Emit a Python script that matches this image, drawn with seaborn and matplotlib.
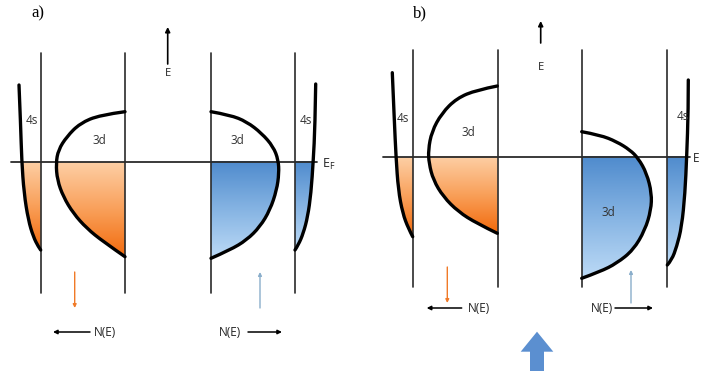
import numpy as np
import pandas as pd
import matplotlib
matplotlib.use("Agg")
import matplotlib.pyplot as plt
from matplotlib.patches import Polygon, PathPatch
from matplotlib.path import Path
from matplotlib.colors import LinearSegmentedColormap
import seaborn as sns

# ---- geometry of the two panels (canvas units, y grows downward) ----
panel_labels = ["a)", "b)"]
panel_label_x = [38, 420]
fermi_y = [161.7, 156.7]
fermi_x0 = [10.7, 383]
fermi_x1 = [317, 690]
axis_x = [[40.7, 125, 210.7, 294.7], [413.3, 497.7, 581.7, 666.7]]
axis_top = [53, 50]
axis_bottom = [293, 287]
energy_arrow_x = [167.7, 540.7]
energy_arrow_y = [(64, 27), (43, 21)]
energy_label_y = [73, 68]

# ---- density-of-states curves: (x, y) points along each band ----
a_s_down_x = [19, 20.7, 21.7, 24, 28.3, 33.3, 38.3, 40.7]
a_s_down_y = [85, 126.7, 160, 193, 220, 236.7, 246.7, 250]
a_d_down_x = [125, 100, 80, 66.7, 58.3, 56, 57.3, 63.3, 73.3, 86.7, 103.3, 125]
a_d_down_y = [111.7, 115, 123.3, 136.7, 150, 163.3, 180, 196.7, 213.3, 228.3, 241.7, 256.7]
a_d_up_x = [211, 230, 246.7, 261.7, 273.3, 278.3, 279, 276.7, 270, 260, 246.7, 230, 211]
a_d_up_y = [111.7, 115, 121.7, 133.3, 146.7, 160, 173.3, 190, 210, 226.7, 240, 250, 258.3]
a_s_up_x = [315.7, 315, 313.3, 311, 307.7, 303.3, 298.3, 295]
a_s_up_y = [84, 126.7, 160, 193.3, 216.7, 233.3, 245, 250]

b_s_down_x = [392.3, 394.3, 396, 398.3, 402.7, 408.3, 412.7]
b_s_down_y = [72.7, 120, 156.7, 190, 213.3, 228.3, 236.7]
b_d_down_x = [497.3, 476.7, 456.7, 441.7, 431.7, 428.3, 429, 433.3, 443.3, 458.3, 476.7, 497.3]
b_d_down_y = [86, 90, 98.3, 113.3, 131.7, 150, 163.3, 180, 196.7, 211.7, 223.3, 233.3]
b_d_up_x = [581.7, 600, 616.7, 630, 638.3, 646.7, 651.7, 651, 645, 633.3, 616.7, 600, 581.7]
b_d_up_y = [131.7, 135, 141.7, 150, 158.3, 173.3, 193.3, 210, 230, 250, 263.3, 271.7, 278.3]
b_s_up_x = [688.3, 688.3, 686.7, 685, 681.7, 676.7, 671.7, 667.3]
b_s_up_y = [80, 110, 156.7, 193.3, 226.7, 246.7, 260, 265]

# band label text positions
band_text = ["4s", "3d", "3d", "4s", "4s", "3d", "3d", "4s"]
band_text_x = [32, 99, 237, 306, 403, 468, 608, 683]
band_text_y = [121, 140, 140, 121, 118, 133, 212, 117]

# spin arrows and N(E) captions
spin_x = [[74.7, 260], [447.3, 631]]
spin_y = [[(272, 308), (308, 272)], [(267, 303), (303, 270)]]
ne_y = [332, 308]
ne_left_arrow = [(90, 53), (461.7, 426.7)]
ne_left_text = [105, 479]
ne_right_text = [230, 601.7]
ne_right_arrow = [(248, 282), (615, 653)]

ORANGE = LinearSegmentedColormap.from_list("orange", ["#fdcfa5", "#f9a05a", "#f26a0c"])
BLUE = LinearSegmentedColormap.from_list("blue", ["#4f8bcd", "#86b4e3", "#bcdaf6"])

sns.set_theme(style="white")
plt.rcParams["font.family"] = ["Open Sans", "DejaVu Sans"]

fig = plt.figure(figsize=(7.01, 3.71), dpi=100)
ax = fig.add_axes([0, 0, 1, 1])


def smooth_path(xs, ys, close_to=None):
    """Quadratic B-spline path through the midpoints of the given points."""
    pts = np.column_stack([xs, ys])
    verts = [pts[0]]
    codes = [Path.MOVETO]
    n = len(pts)
    for i in range(1, n - 1):
        end = pts[i + 1] if i == n - 2 else (pts[i] + pts[i + 1]) / 2
        verts += [pts[i], end]
        codes += [Path.CURVE3, Path.CURVE3]
    if close_to is not None:
        verts += [(close_to, pts[-1][1]), (close_to, pts[0][1]), pts[0]]
        codes += [Path.LINETO, Path.LINETO, Path.CLOSEPOLY]
    return Path(np.array(verts, float), codes)


def band(xs, ys, axis, ef, cmap):
    """Draw one band outline and shade its occupied part below E_F."""
    xs = np.asarray(xs, float)
    ys = np.asarray(ys, float)
    clip = PathPatch(smooth_path(xs, ys, close_to=axis), transform=ax.transData,
                     fc="none", ec="none")
    ax.add_patch(clip)
    x0, x1 = min(xs.min(), axis), max(xs.max(), axis)
    grad = np.linspace(0, 1, 256)[:, None]
    im = ax.imshow(grad, cmap=cmap, aspect="auto", interpolation="bilinear",
                   extent=(x0, x1, ys.max(), ef), zorder=1)
    im.set_clip_path(clip)
    ax.add_patch(PathPatch(smooth_path(xs, ys), fc="none", ec="black", lw=2.4,
                           capstyle="round", joinstyle="round", zorder=4))


curves = [
    (a_s_down_x, a_s_down_y, 0, 0, ORANGE),
    (a_d_down_x, a_d_down_y, 0, 1, ORANGE),
    (a_d_up_x, a_d_up_y, 0, 2, BLUE),
    (a_s_up_x, a_s_up_y, 0, 3, BLUE),
    (b_s_down_x, b_s_down_y, 1, 0, ORANGE),
    (b_d_down_x, b_d_down_y, 1, 1, ORANGE),
    (b_d_up_x, b_d_up_y, 1, 2, BLUE),
    (b_s_up_x, b_s_up_y, 1, 3, BLUE),
]
for xs, ys, p, k, cmap in curves:
    band(xs, ys, axis_x[p][k], fermi_y[p], cmap)

# N(E) axes and Fermi levels
for p in range(2):
    for xa in axis_x[p]:
        seg = pd.DataFrame({"N": [xa, xa], "E": [axis_top[p], axis_bottom[p]]})
        sns.lineplot(data=seg, x="N", y="E", sort=False, estimator=None, ax=ax,
                     color="#2b2b2b", lw=1.2, zorder=3)
    seg = pd.DataFrame({"N": [fermi_x0[p], fermi_x1[p]], "E": [fermi_y[p], fermi_y[p]]})
    sns.lineplot(data=seg, x="N", y="E", sort=False, estimator=None, ax=ax,
                 color="#2b2b2b", lw=1.3, zorder=3)

ax.set_xlim(0, 701)
ax.set_ylim(371, 0)
ax.axis("off")

for p in range(2):
    ax.text(panel_label_x[p], 13, panel_labels[p], family="Liberation Serif",
            fontsize=12, ha="center", va="center", color="black")
    # energy axis arrow
    ex = energy_arrow_x[p]
    ax.annotate("", xy=(ex, energy_arrow_y[p][1]), xytext=(ex, energy_arrow_y[p][0]),
                arrowprops=dict(arrowstyle="-|>", color="black", lw=1.2,
                                mutation_scale=7, shrinkA=0, shrinkB=0))
    ax.text(ex, energy_label_y[p], "E", fontsize=8, ha="center", va="center", color="#222")
    # spin arrows
    for (ys, xs, col) in [(spin_y[p][0], spin_x[p][0], "#f07a28"),
                          (spin_y[p][1], spin_x[p][1], "#8aaecb")]:
        ax.annotate("", xy=(xs, ys[1]), xytext=(xs, ys[0]),
                    arrowprops=dict(arrowstyle="-|>", color=col, lw=1.0,
                                    mutation_scale=5, shrinkA=0, shrinkB=0))
    # N(E) captions
    la = ne_left_arrow[p]
    ax.annotate("", xy=(la[1], ne_y[p]), xytext=(la[0], ne_y[p]),
                arrowprops=dict(arrowstyle="-|>", color="black", lw=1.1,
                                mutation_scale=6, shrinkA=0, shrinkB=0))
    ax.text(ne_left_text[p], ne_y[p], "N(E)", fontsize=8.5, ha="center", va="center", color="#222")
    ra = ne_right_arrow[p]
    ax.annotate("", xy=(ra[1], ne_y[p]), xytext=(ra[0], ne_y[p]),
                arrowprops=dict(arrowstyle="-|>", color="black", lw=1.1,
                                mutation_scale=6, shrinkA=0, shrinkB=0))
    ax.text(ne_right_text[p], ne_y[p], "N(E)", fontsize=8.5, ha="center", va="center", color="#222")

for t, x, y in zip(band_text, band_text_x, band_text_y):
    ax.text(x, y, t, fontsize=8.5, ha="center", va="center", color="#333", zorder=5)

# Fermi level labels (the right one sits at the canvas edge)
ax.text(322, 164, r"$\mathregular{E_F}$", fontsize=9, ha="left", va="center", color="#222")
ax.text(693, 159, "E", fontsize=8.5, ha="left", va="center", color="#222")

# wide arrow under panel b
ax.add_patch(Polygon([(537, 331.7), (553.3, 351.7), (544, 351.7), (544, 371),
                      (530, 371), (530, 351.7), (520.7, 351.7)],
                     closed=True, fc="#5b8fd0", ec="none", zorder=3))

fig.savefig("out.png", dpi=100, facecolor="white")
